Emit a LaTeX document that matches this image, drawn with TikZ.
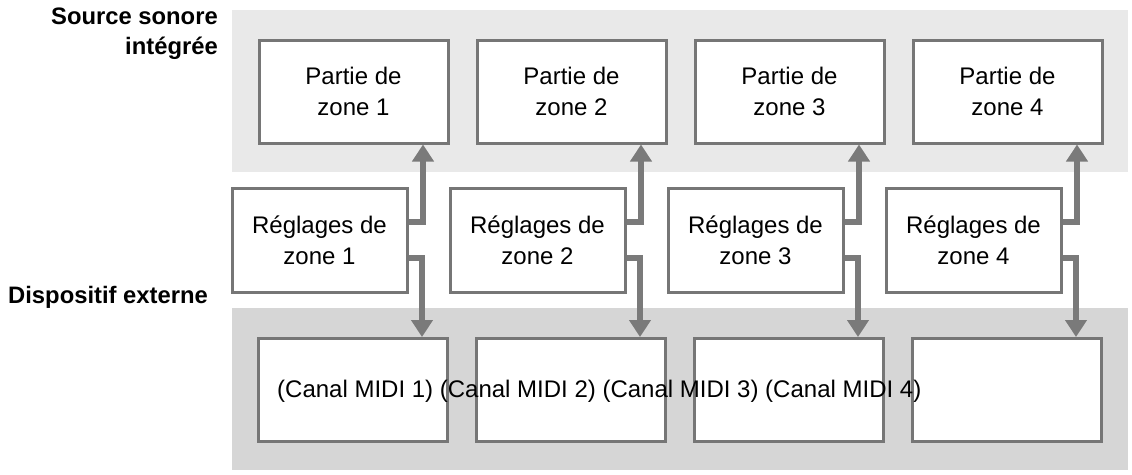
\documentclass[tikz,border=0pt]{standalone}
\usepackage{fontspec}
\setmainfont{Liberation Sans}
\usetikzlibrary{arrows.meta}
\definecolor{bandtop}{HTML}{E9E9E9}
\definecolor{bandbot}{HTML}{D6D6D6}
\definecolor{edge}{HTML}{767676}
\definecolor{arrowgray}{HTML}{7A7A7A}
\tikzset{
  txt/.style={font=\fontsize{24}{31}\selectfont, align=center, inner sep=0pt},
  boxA/.style={txt, draw=edge, line width=3pt, fill=white, minimum width=189pt, minimum height=103pt},
  boxB/.style={txt, draw=edge, line width=3pt, fill=white, minimum width=175pt, minimum height=104pt},
  flow/.style={draw=arrowgray, line width=6pt, -{Triangle[width=21pt,length=17pt]}},
  lbl/.style={font=\bfseries\fontsize{23.8}{30}\selectfont, inner sep=0pt},
}
\begin{document}
\begin{tikzpicture}[x=1pt,y=-1pt]
\useasboundingbox (0,0) rectangle (1132,474);
\fill[bandtop] (232,10) rectangle (1128,172);
\fill[bandbot] (232,308) rectangle (1128,470);
\node[lbl, align=right, anchor=north east] (src) at (218,8) {Source sonore\\intégrée};
\node[lbl, anchor=west] (ext) at (8,297) {Dispositif externe};
\foreach \i in {1,...,4}{
  \pgfmathsetmacro{\dx}{218*(\i-1)}
  \node[boxA] (p\i) at (353.5+\dx,91.5) {Partie de\\zone \i};
  \node[boxB] (r\i) at (319.5+\dx,240) {Réglages de\\zone \i};
  \node[boxA] (b\i) at (353+\dx,390) {};
  \draw[flow] ([yshift=18pt]r\i.east) -| ([xshift=69.5pt]p\i.south);
  \draw[flow] ([yshift=-18pt]r\i.east) -| ([xshift=69pt]b\i.north);
}
\node[txt, anchor=base west] (midi) at (277,397) {(Canal MIDI 1) (Canal MIDI 2) (Canal MIDI 3) (Canal MIDI 4)};
\end{tikzpicture}
\end{document}
